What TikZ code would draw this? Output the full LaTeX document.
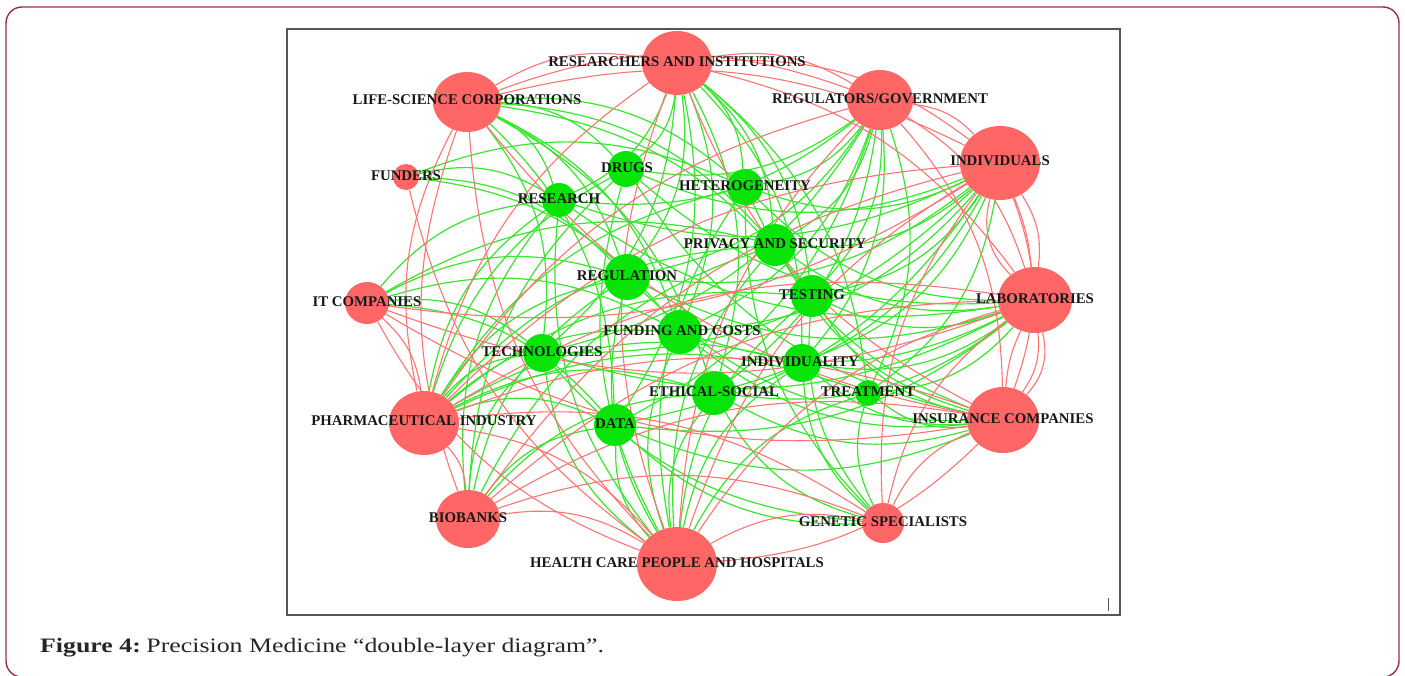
\documentclass[tikz,border=0pt]{standalone}
\usepackage{fontspec}
\setmainfont{Liberation Serif}
\newfontfamily\capfont[FakeStretch=1.26]{Liberation Serif}
\usetikzlibrary{shapes.geometric,backgrounds}
\definecolor{rednode}{RGB}{255,102,102}
\definecolor{greennode}{RGB}{8,228,8}
\definecolor{gedge}{RGB}{55,230,45}
\definecolor{redge}{RGB}{255,115,115}
\definecolor{outerframe}{RGB}{158,42,82}
\definecolor{innerframe}{RGB}{85,85,85}
\begin{document}
\begin{tikzpicture}[x=1pt,y=-1pt,
  actor/.style={ellipse,fill=rednode,draw=none,inner sep=0pt},
  topic/.style={circle,fill=greennode,draw=none,inner sep=0pt},
  lab/.style={font=\fontsize{14.8}{14.8}\selectfont\bfseries,text=black!90,inner sep=0pt},
  gl/.style={draw=gedge,line width=1.2pt},
  rl/.style={draw=redge,line width=1.1pt},
  captionstyle/.style={font=\capfont\fontsize{20.5}{20.5}\selectfont,text=black!85,anchor=base west,inner sep=0pt}]
\useasboundingbox (0,0) rectangle (1405,675);
% frames
\draw[outerframe,line width=1.4pt,rounded corners=16pt] (6,7) rectangle (1399,677);
\draw[innerframe,line width=1.2pt] (287,29) rectangle (1120,615);
\draw[innerframe,line width=1pt] (1108,598) -- (1108,611);
% actors (red)
\node[actor,minimum width=70,minimum height=64] (RI) at (677,63) {};
\node[actor,minimum width=68,minimum height=60] (LS) at (467,102) {};
\node[actor,minimum width=66,minimum height=60] (RG) at (880,100) {};
\node[actor,minimum width=80,minimum height=74] (IN) at (1000,163) {};
\node[actor,minimum width=26,minimum height=26] (FU) at (406,177) {};
\node[actor,minimum width=44,minimum height=42] (IT) at (367,303) {};
\node[actor,minimum width=74,minimum height=66] (LA) at (1035,300) {};
\node[actor,minimum width=70,minimum height=64] (PH) at (424,423) {};
\node[actor,minimum width=72,minimum height=66] (IC) at (1003,420) {};
\node[actor,minimum width=64,minimum height=58] (BB) at (468,519) {};
\node[actor,minimum width=42,minimum height=40] (GS) at (883,523) {};
\node[actor,minimum width=80,minimum height=74] (HC) at (677,564) {};
% topics (green)
\node[topic,minimum size=36] (DR) at (626,169) {};
\node[topic,minimum size=34] (RE) at (559,200) {};
\node[topic,minimum size=36] (HE) at (745,187) {};
\node[topic,minimum size=42] (PS) at (775,245) {};
\node[topic,minimum size=46] (RL) at (627,277) {};
\node[topic,minimum size=42] (TE) at (812,296) {};
\node[topic,minimum size=44] (FC) at (680,332) {};
\node[topic,minimum size=38] (TC) at (542,353) {};
\node[topic,minimum size=38] (ID) at (802,363) {};
\node[topic,minimum size=44] (ES) at (714,393) {};
\node[topic,minimum size=26] (TR) at (868,393) {};
\node[topic,minimum size=42] (DA) at (615,425) {};
% edges behind the nodes
\begin{scope}[on background layer]
\foreach \g/\lst in {
  DR/{LS,RI,RG,IN,PH,HC,LA,IC,BB},
  RE/{LS,RI,FU,RG,IN,PH,HC,BB,IT,LA},
  HE/{LS,RI,RG,IN,LA,PH,HC,IC,GS,FU},
  PS/{RI,RG,IN,LA,IC,HC,IT,PH,BB,LS},
  RL/{LS,RI,RG,IN,LA,IC,PH,HC,IT,FU,BB},
  TE/{RI,RG,IN,LA,IC,HC,GS,PH,LS},
  FC/{LS,RI,RG,IN,LA,IC,PH,HC,FU,IT},
  TC/{LS,RI,RG,IN,LA,IT,PH,HC,BB,GS},
  ID/{RI,RG,IN,LA,IC,HC,GS,PH},
  ES/{LS,RI,RG,IN,LA,IC,PH,HC,BB,GS},
  TR/{RG,IN,LA,IC,HC,GS,PH,RI},
  DA/{LS,RI,RG,IN,LA,IC,PH,HC,BB,IT,GS}}
  {\foreach \r in \lst {\draw[gl] (\g) to[bend right=22] (\r);}}
\foreach \a/\b in {
  RI/LS,RG/RI,IN/RI,LA/RI,RI/PH,RI/HC,RI/IC,RG/LS,IN/LS,LS/PH,LS/BB,LS/HC,
  IN/RG,LA/RG,IC/RG,RG/HC,RG/PH,LA/IN,IC/IN,IN/HC,IN/GS,IN/PH,IN/BB,
  IC/LA,LA/HC,LA/PH,LA/GS,PH/IT,IT/LA,IT/IC,IT/HC,BB/PH,HC/PH,IC/PH,GS/PH,
  HC/BB,IC/BB,LA/BB,GS/BB,GS/HC,HC/IC,IC/GS,FU/HC,IT/IN,LS/IC}
  {\draw[rl] (\a) to[bend right=20] (\b);}
\draw[rl] (LA) to[bend right=8] (IN);
\draw[rl] (IN) to[bend right=30] (LA);
\draw[rl] (LA) to[bend right=10] (IC);
\draw[rl] (IC) to[bend right=28] (LA);
\end{scope}
% labels
\node[lab] (RI-l) at (677,62) {RESEARCHERS AND INSTITUTIONS};
\node[lab] (LS-l) at (467,100) {LIFE-SCIENCE CORPORATIONS};
\node[lab] (RG-l) at (880,99) {REGULATORS/GOVERNMENT};
\node[lab] (IN-l) at (1000,161) {INDIVIDUALS};
\node[lab] (FU-l) at (406,176) {FUNDERS};
\node[lab] (IT-l) at (367,302) {IT COMPANIES};
\node[lab] (LA-l) at (1035,299) {LABORATORIES};
\node[lab] (PH-l) at (424,421) {PHARMACEUTICAL INDUSTRY};
\node[lab] (IC-l) at (1003,419) {INSURANCE COMPANIES};
\node[lab] (BB-l) at (468,518) {BIOBANKS};
\node[lab] (GS-l) at (883,522) {GENETIC SPECIALISTS};
\node[lab] (HC-l) at (677,563) {HEALTH CARE PEOPLE AND HOSPITALS};
\node[lab] (DR-l) at (627,168) {DRUGS};
\node[lab] (RE-l) at (559,199) {RESEARCH};
\node[lab] (HE-l) at (745,186) {HETEROGENEITY};
\node[lab] (PS-l) at (775,244) {PRIVACY AND SECURITY};
\node[lab] (RL-l) at (627,276) {REGULATION};
\node[lab] (TE-l) at (812,295) {TESTING};
\node[lab] (FC-l) at (682,331) {FUNDING AND COSTS};
\node[lab] (TC-l) at (542,352) {TECHNOLOGIES};
\node[lab] (ID-l) at (800,362) {INDIVIDUALITY};
\node[lab] (ES-l) at (714,392) {ETHICAL-SOCIAL};
\node[lab] (TR-l) at (868,392) {TREATMENT};
\node[lab] (DA-l) at (615,424) {DATA};
% caption
\node[captionstyle] (capt) at (40,652) {\textbf{Figure 4:}\hspace{-3pt} Precision Medicine “double-layer diagram”.};
\end{tikzpicture}
\end{document}
